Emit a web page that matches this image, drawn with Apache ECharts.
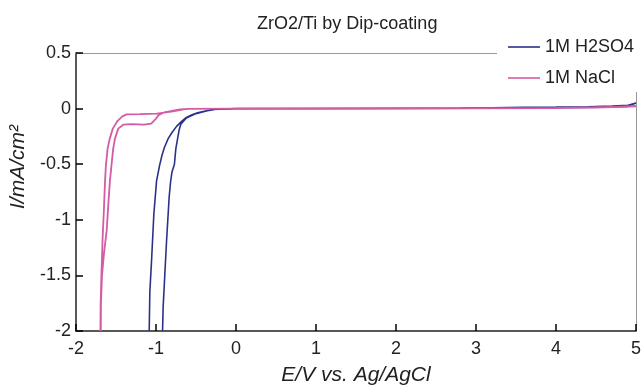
<!DOCTYPE html>
<html>
<head>
<meta charset="utf-8">
<script src="https://cdn.jsdelivr.net/npm/echarts@6/dist/echarts.min.js"></script>
<style>html,body{margin:0;padding:0;background:#fff}#c{width:644px;height:391px}</style>
</head>
<body>
<div id="c"></div>
<script>
var titleText = 'ZrO2/Ti by Dip-coating';
var xName = 'E/V vs. Ag/AgCl';
var yName = 'I/mA/cm\u00B2';
var seriesNames = ['1M H2SO4', '1M NaCl'];
var xTicks = [-2, -1, 0, 1, 2, 3, 4, 5];
var yTicks = [-2, -1.5, -1, -0.5, 0, 0.5];

// 1M H2SO4 (cyclic scan path: outer branch up, out to 5 V, back, inner branch down)
var h2so4_E = [-1.085, -1.077, -1.055, -1.027, -0.993, -0.955, -0.925, -0.895, -0.848, -0.80, -0.743, -0.68, -0.62, -0.55, -0.48, -0.41, -0.34, -0.28, -0.24, 0, 1, 2, 2.8, 3.2, 3.6, 4.0, 4.4, 4.7, 4.9, 5,
  4.9, 4.5, 4.0, 3.0, 2.0, 0, -0.3, -0.5, -0.62, -0.69, -0.71, -0.73, -0.752, -0.77, -0.80, -0.818, -0.836, -0.868, -0.889, -0.911, -0.918];
var h2so4_I = [-2.0, -1.65, -1.36, -0.95, -0.65, -0.51, -0.42, -0.35, -0.27, -0.215, -0.16, -0.115, -0.08, -0.055, -0.038, -0.026, -0.016, -0.01, -0.004, 0, 0.001, 0.002, 0.004, 0.008, 0.012, 0.014, 0.017, 0.022, 0.03, 0.05,
  0.02, 0.012, 0.008, 0.003, 0.001, 0, -0.008, -0.045, -0.085, -0.14, -0.19, -0.27, -0.36, -0.5, -0.57, -0.66, -0.80, -1.19, -1.48, -1.79, -2.0];

// 1M NaCl (inner branch with shoulder up, out to 5 V, back, outer branch down)
var nacl_E = [-1.690, -1.688, -1.675, -1.650, -1.617, -1.595, -1.576, -1.555, -1.535, -1.513, -1.472, -1.41, -1.30, -1.15, -1.06, -1.00, -0.97, -0.90, -0.80, -0.70, -0.60, 0, 1, 2, 3, 4, 4.5, 5,
  5, 4, 3, 1, 0, -0.62, -0.79, -0.99, -1.2, -1.367, -1.42, -1.48, -1.54, -1.578, -1.605, -1.626, -1.637, -1.650, -1.667, -1.684, -1.692, -1.695];
var nacl_I = [-2.0, -1.75, -1.5, -1.3, -1.1, -0.85, -0.65, -0.5, -0.36, -0.27, -0.18, -0.145, -0.14, -0.145, -0.135, -0.09, -0.06, -0.035, -0.02, -0.008, -0.002, 0, 0.001, 0.002, 0.003, 0.006, 0.01, 0.02,
  0.015, 0.004, 0.002, 0, 0, -0.003, -0.025, -0.045, -0.05, -0.052, -0.07, -0.11, -0.18, -0.27, -0.36, -0.51, -0.65, -0.89, -1.16, -1.54, -1.75, -2.0];

function zip(a, b) { return a.map(function (v, i) { return [v, b[i]]; }); }

var chart = echarts.init(document.getElementById('c'));
var font = 'Liberation Sans, Arial, sans-serif';
var xMin = xTicks[0], xMax = xTicks[xTicks.length - 1];
var yMin = yTicks[0], yMax = yTicks[yTicks.length - 1];
chart.setOption({
  animation: false,
  title: {
    text: titleText, left: 252, top: 10,
    textStyle: { fontSize: 18, fontWeight: 'normal', color: '#222', fontFamily: font }
  },
  legend: {
    orient: 'vertical', left: 497, top: 30,
    padding: [8, 7, 5, 11], itemGap: 13, itemWidth: 32, itemHeight: 1.6,
    icon: 'rect',
    backgroundColor: '#fff', z: 10,
    textStyle: { fontSize: 18, color: '#222', fontFamily: font, lineHeight: 18 },
    data: seriesNames
  },
  grid: { left: 76, right: 7, top: 53, bottom: 56 },
  xAxis: [{
    type: 'value', min: xMin, max: xMax, interval: 1,
    name: xName, nameLocation: 'middle', nameGap: 34,
    nameTextStyle: { fontSize: 21, fontStyle: 'italic', color: '#222', fontFamily: font },
    axisLine: { show: true, onZero: false, lineStyle: { color: '#222', width: 1.5 } },
    axisTick: { show: true, inside: true, length: 7, lineStyle: { color: '#000', width: 1.5 } },
    axisLabel: { fontSize: 18, color: '#222', margin: 9, fontFamily: font },
    splitLine: { show: false }
  }, {
    type: 'value', position: 'top', min: xMin, max: xMax, interval: 1,
    axisLine: { show: true, onZero: false, lineStyle: { color: '#999', width: 1 } },
    axisTick: { show: false }, axisLabel: { show: false }, splitLine: { show: false }
  }],
  yAxis: [{
    type: 'value', min: yMin, max: yMax, interval: 0.5,
    name: yName, nameLocation: 'middle', nameGap: 41, nameRotate: 90,
    nameTextStyle: { fontSize: 21, fontStyle: 'italic', color: '#222', fontFamily: font, padding: [0, 0, 0, 50] },
    axisLine: { show: true, onZero: false, lineStyle: { color: '#222', width: 1.5 } },
    axisTick: { show: true, inside: true, length: 7, lineStyle: { color: '#000', width: 1.5 } },
    axisLabel: { fontSize: 18, color: '#222', margin: 5, fontFamily: font },
    splitLine: { show: false }
  }, {
    type: 'value', position: 'right', min: yMin, max: yMax, interval: 0.5,
    axisLine: { show: true, onZero: false, lineStyle: { color: '#999', width: 1 } },
    axisTick: { show: false }, axisLabel: { show: false }, splitLine: { show: false }
  }],
  series: [
    { name: seriesNames[0], type: 'line', data: zip(h2so4_E, h2so4_I), symbol: 'none', smooth: false,
      lineStyle: { color: '#2a3288', width: 1.6 }, itemStyle: { color: '#2a3288' } },
    { name: seriesNames[1], type: 'line', data: zip(nacl_E, nacl_I), symbol: 'none', smooth: false,
      lineStyle: { color: '#d35ca4', width: 1.8 }, itemStyle: { color: '#d35ca4' } }
  ]
});
</script>
</body>
</html>
